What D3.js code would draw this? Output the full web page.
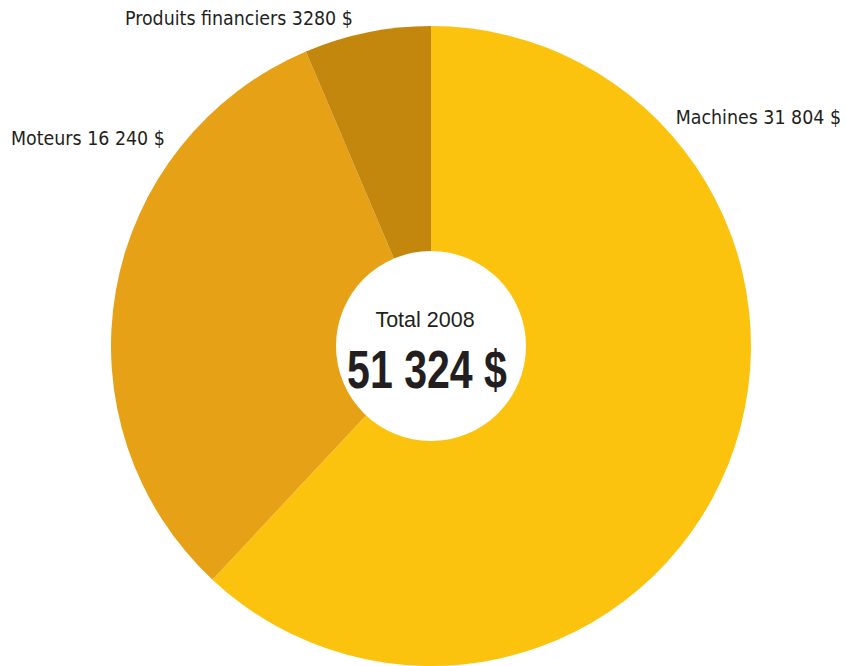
<!DOCTYPE html>
<html>
<head>
<meta charset="utf-8">
<script src="https://cdn.jsdelivr.net/npm/d3@7/dist/d3.min.js"></script>
<style>
  html, body { margin: 0; padding: 0; background: #ffffff; }
  svg { display: block; }
  .lbl { font-family: "DejaVu Sans Condensed", "Liberation Sans Narrow", sans-serif; font-size: 19.4px; fill: #231f20; }
  .total-cap { font-family: "Liberation Sans", Arial, sans-serif; font-size: 21.5px; fill: #231f20; }
  .total-val { font-family: "Liberation Sans", Arial, sans-serif; font-weight: bold; font-size: 53px; fill: #231f20; }
</style>
</head>
<body>
<svg id="chart" width="846" height="666"></svg>
<script>
// Revenue breakdown, 2008
const categories = ["Machines", "Moteurs", "Produits financiers"];
const values = [31804, 16240, 3280];
const valueLabels = ["31 804 $", "16 240 $", "3280 $"];
const colors = ["#fcc30e", "#e7a117", "#c4870d"];
const totalCaption = "Total 2008";
const totalLabel = "51 324 $";

const cx = 431, cy = 346;
const outerR = 320, innerR = 95;

const svg = d3.select("#chart");
const g = svg.append("g").attr("transform", `translate(${cx},${cy})`);

const data = categories.map((c, i) => ({ name: c, value: values[i], label: valueLabels[i], color: colors[i] }));

const pie = d3.pie().sort(null).value(d => d.value);
const arc = d3.arc().innerRadius(0).outerRadius(outerR);
const arcs = pie(data);

g.selectAll("path.slice")
  .data(arcs)
  .join("path")
  .attr("class", "slice")
  .attr("d", arc)
  .attr("fill", d => d.data.color);

// white hole in the middle
g.append("circle").attr("r", innerR).attr("fill", "#ffffff");

g.append("text")
  .attr("class", "total-cap")
  .attr("text-anchor", "middle")
  .attr("x", -6)
  .attr("y", -19)
  .text(totalCaption);

// big total, squeezed horizontally into a condensed look
const valG = g.append("g").attr("transform", "translate(-4,42)");
const valText = valG.append("text")
  .attr("class", "total-val")
  .attr("text-anchor", "middle")
  .text(totalLabel);
const w = valText.node().getComputedTextLength();
valText.attr("transform", `scale(${160 / w},1)`);

// outside labels, placed near each slice's edge
const labelPos = [
  { x: 841, y: 124, anchor: "end" },
  { x: 11, y: 145, anchor: "start" },
  { x: 125, y: 25, anchor: "start" }
];

svg.selectAll("text.lbl")
  .data(arcs)
  .join("text")
  .attr("class", "lbl")
  .attr("x", (d, i) => labelPos[i].x)
  .attr("y", (d, i) => labelPos[i].y)
  .attr("text-anchor", (d, i) => labelPos[i].anchor)
  .text(d => `${d.data.name} ${d.data.label}`);
</script>
</body>
</html>
